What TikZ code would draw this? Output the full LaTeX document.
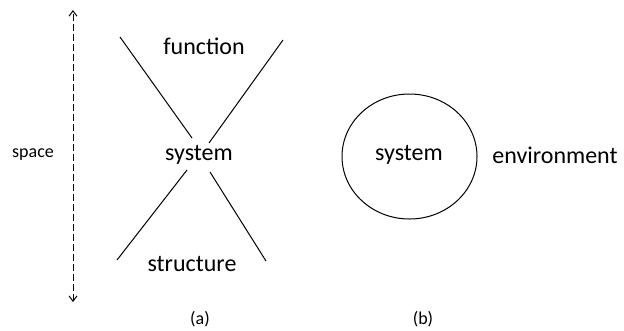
\documentclass[tikz,border=0pt]{standalone}
\usepackage{fontspec}
\setmainfont{Carlito}
\usetikzlibrary{arrows.meta,shapes.geometric}
\begin{document}
\begin{tikzpicture}[x=0.75pt,y=-0.75pt,
  big/.style={font=\fontsize{18}{21}\selectfont, inner sep=0pt},
  small/.style={font=\fontsize{13.5}{16}\selectfont, inner sep=0pt},
  xline/.style={line width=0.75pt},
  spacearrow/.style={line width=0.75pt, dash pattern=on 5pt off 2.5pt, {Straight Barb[length=4pt,width=6pt]}-{Straight Barb[length=4pt,width=6pt]}}]
\useasboundingbox (0,0) rectangle (624,330);
% space arrow
\coordinate (st) at (73,10);
\coordinate (sb) at (73,302);
\draw[spacearrow] (sb) -- (st);
\node[small] (space) at (33,155) {space};
% (a) diagram
\node[big] (func) at (204,46) {function};
\node[big] (sys) at (199,155) {system};
\node[big] (struct) at (192,264) {structure};
\coordinate (ul1) at (120,37);
\coordinate (ul2) at (192,138);
\coordinate (ur1) at (283,40);
\coordinate (ur2) at (209,143);
\coordinate (ll1) at (187,170);
\coordinate (ll2) at (117,260);
\coordinate (lr1) at (210,172);
\coordinate (lr2) at (266,261);
\draw[xline] (ul1) -- (ul2);
\draw[xline] (ur1) -- (ur2);
\draw[xline] (ll1) -- (ll2);
\draw[xline] (lr1) -- (lr2);
% (b) diagram
\node[draw, ellipse, line width=0.75pt, minimum width=101.25pt, minimum height=93.75pt, inner sep=0pt] (circ) at (409.5,156.5) {};
\node[big] (sys2) at (409,155) {system};
\node[big] (env) at (555,155) {environment};
% captions
\node[small] (capa) at (200,319) {(a)};
\node[small] (capb) at (423,319) {(b)};
\end{tikzpicture}
\end{document}
